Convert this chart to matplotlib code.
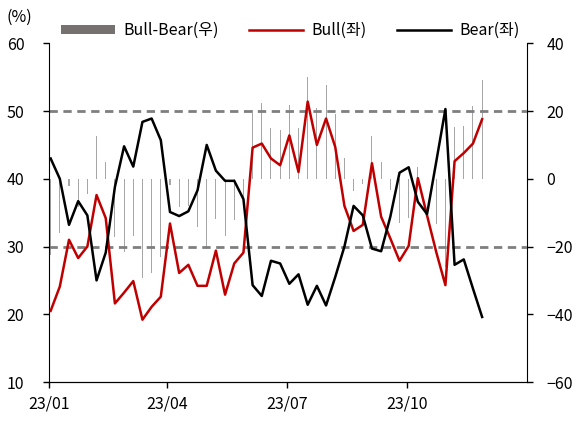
import matplotlib
matplotlib.use("Agg")
import matplotlib.pyplot as plt
import matplotlib.dates as mdates
import numpy as np
import pandas as pd

plt.rcParams['font.family'] = ['Noto Sans CJK KR', 'DejaVu Sans']

# Weekly sentiment survey (%), 2023
dates = pd.date_range('2023-01-02', periods=48, freq='7D')
bull = np.array([20.5, 24.1, 31.0, 28.3, 30.0, 37.6, 34.2, 21.6, 23.2, 24.9,
                 19.2, 21.1, 22.6, 33.4, 26.1, 27.3, 24.2, 24.2, 29.4, 22.9,
                 27.5, 29.1, 44.6, 45.2, 43.0, 42.0, 46.4, 41.0, 51.4, 45.0,
                 48.9, 44.7, 36.0, 32.3, 33.2, 42.3, 34.4, 31.2, 27.9, 30.1,
                 40.1, 34.6, 29.2, 24.3, 42.6, 43.8, 45.2, 48.8])
bear = np.array([43.0, 40.0, 33.2, 36.7, 34.6, 25.0, 29.1, 38.8, 44.8, 41.8,
                 48.4, 48.9, 45.7, 35.1, 34.5, 35.2, 38.3, 45.0, 41.2, 39.7,
                 39.7, 37.0, 24.3, 22.7, 27.9, 27.5, 24.5, 25.9, 21.4, 24.2,
                 21.3, 25.5, 30.0, 36.0, 34.6, 29.7, 29.3, 34.4, 40.9, 41.7,
                 36.6, 34.8, 42.5, 50.3, 27.3, 28.1, 23.8, 19.6])
spread = bull - bear

fig, ax = plt.subplots(figsize=(5.79, 4.21), dpi=100)
fig.subplots_adjust(left=0.0852, right=0.9097, bottom=0.0926, top=0.8971)
ax2 = ax.twinx()

# Bull-Bear bars on right axis
bars = ax2.bar(dates, spread, width=0.8, color='#a6a6a6', linewidth=0)
ax2.set_ylim(-60, 40)
ax2.set_yticks(np.arange(-60, 41, 20))

# lines on left axis, drawn above the bars
ax.set_zorder(ax2.get_zorder() + 1)
ax.patch.set_visible(False)
ax.axhline(50, color='#7f7f7f', lw=2, ls=(0, (3, 2)), zorder=1)
ax.axhline(30, color='#7f7f7f', lw=2, ls=(0, (3, 2)), zorder=1)
l_bull, = ax.plot(dates, bull, color='#c00000', lw=1.8, zorder=3)
l_bear, = ax.plot(dates, bear, color='black', lw=1.8, zorder=3)
ax.set_ylim(10, 60)
ax.set_yticks(np.arange(10, 61, 10))
ax.set_xlim(pd.Timestamp('2023-01-01'), pd.Timestamp('2023-12-31'))
ax.xaxis.set_major_locator(mdates.MonthLocator(bymonth=[1, 4, 7, 10]))
ax.xaxis.set_major_formatter(mdates.DateFormatter('%y/%m'))

for a in (ax, ax2):
    a.spines['top'].set_visible(False)
    a.tick_params(labelsize=11.5, length=4, width=1, colors='black', pad=3)
    a.grid(False)
ax.spines['right'].set_visible(False)
ax2.spines['left'].set_visible(False)
ax.tick_params(axis='y', pad=14)
ax2.tick_params(axis='y', pad=10)
ax.tick_params(axis='x', pad=6)

fig.text(0.012, 0.96, '(%)', fontsize=11.5, va='center', ha='left')

ax.legend([bars, l_bull, l_bear], ['Bull-Bear(우)', 'Bull(좌)', 'Bear(좌)'],
          loc='center', bbox_to_anchor=(0.504, 1.038), ncol=3, frameon=False,
          fontsize=11.5, handlelength=3.4, handleheight=0.5, columnspacing=1.9,
          handletextpad=0.5)
# make legend bar patch thick grey
leg = ax.get_legend()
leg.get_patches()[0].set_color('#767171')

fig.savefig('out.png', dpi=100)
